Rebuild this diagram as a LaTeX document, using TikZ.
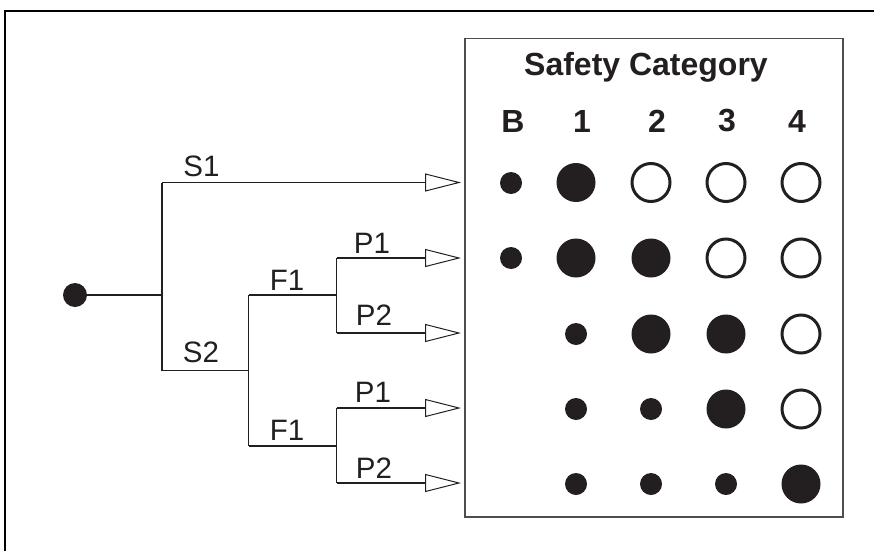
\documentclass[tikz,border=0pt]{standalone}
\usepackage{fontspec}
\setmainfont{Liberation Sans}
\usetikzlibrary{arrows.meta}
\definecolor{ink}{HTML}{231F20}
\tikzset{
  tree/.style={draw=ink, line width=1.3pt},
  branch/.style={tree, -{Triangle[open, length=36pt, width=18pt, line width=1pt]}},
  lbl/.style={inner sep=0pt, font=\fontsize{29.5}{29.5}\selectfont, text=ink},
  head/.style={inner sep=0pt, font=\fontsize{32}{32}\selectfont\bfseries, text=ink},
  small/.style={circle, fill=ink, minimum size=22pt, inner sep=0pt},
  big/.style={circle, fill=ink, minimum size=39pt, inner sep=0pt},
  open/.style={circle, draw=ink, line width=3pt, fill=white, minimum size=38pt, inner sep=0pt},
}
\begin{document}
\begin{tikzpicture}[x=1pt, y=-1pt]
\useasboundingbox (0,0) rectangle (874,551);
% outer frame (cropped)
\draw[black, line width=2pt] (5,551) -- (5,11) -- (874,11);
% category box
\node[draw=ink!80, line width=1.5pt, minimum width=378pt, minimum height=478pt, inner sep=0pt, anchor=north west] (box) at (464,38) {};
\node[head] (title) at (646,67.5) {Safety Category};
\node[head] (hB) at (513,121) {B};
\node[head] (h1) at (582,121) {1};
\node[head] (h2) at (657,121) {2};
\node[head] (h3) at (727,121) {3};
\node[head] (h4) at (797,121) {4};
% tree
\node[circle, fill=ink, minimum size=24pt, inner sep=0pt] (start) at (75,295) {};
\coordinate (s) at (162,295);
\coordinate (s1) at (162,182.5);
\coordinate (s2) at (162,370.5);
\coordinate (f) at (248.5,370.5);
\coordinate (fa) at (248.5,295);
\coordinate (fb) at (248.5,446);
\coordinate (pa) at (336.5,295);
\coordinate (pb) at (336.5,446);
\coordinate (pa1) at (336.5,258);
\coordinate (pa2) at (336.5,333);
\coordinate (pb1) at (336.5,408);
\coordinate (pb2) at (336.5,483);
\coordinate (t1) at (461,182.5);
\coordinate (t2) at (461,258);
\coordinate (t3) at (461,333);
\coordinate (t4) at (461,408);
\coordinate (t5) at (461,483);
\draw[tree] (start) -- (s);
\draw[tree] (s1) -- (s2);
\draw[branch] (s1) -- (t1);
\draw[tree] (s2) -- (f);
\draw[tree] (fa) -- (fb);
\draw[tree] (fa) -- (pa);
\draw[tree] (fb) -- (pb);
\draw[tree] (pa1) -- (pa2);
\draw[tree] (pb1) -- (pb2);
\draw[branch] (pa1) -- (t2);
\draw[branch] (pa2) -- (t3);
\draw[branch] (pb1) -- (t4);
\draw[branch] (pb2) -- (t5);
% labels
\node[lbl] (lS1) at (201.5,166) {S1};
\node[lbl] (lS2) at (201,352) {S2};
\node[lbl] (lF1a) at (287,280) {F1};
\node[lbl] (lF1b) at (287,430) {F1};
\node[lbl] (lP1a) at (372,243) {P1};
\node[lbl] (lP2a) at (374,315) {P2};
\node[lbl] (lP1b) at (373,392) {P1};
\node[lbl] (lP2b) at (374,468) {P2};
% dots row 1
\node[small] (r1B) at (511,183) {};
\node[big]   (r1c1) at (576,182.5) {};
\node[open]  (r1c2) at (651,182.5) {};
\node[open]  (r1c3) at (726,182.5) {};
\node[open]  (r1c4) at (801,182.5) {};
% row 2
\node[small] (r2B) at (511,258) {};
\node[big]   (r2c1) at (576,258) {};
\node[big]   (r2c2) at (651,258) {};
\node[open]  (r2c3) at (726,258) {};
\node[open]  (r2c4) at (801,258) {};
% row 3
\node[small] (r3c1) at (576,334) {};
\node[big]   (r3c2) at (651,334) {};
\node[big]   (r3c3) at (726,334) {};
\node[open]  (r3c4) at (801,334) {};
% row 4
\node[small] (r4c1) at (576,409) {};
\node[small] (r4c2) at (651,409) {};
\node[big]   (r4c3) at (726,409) {};
\node[open]  (r4c4) at (801,409) {};
% row 5
\node[small] (r5c1) at (576,484) {};
\node[small] (r5c2) at (651,484) {};
\node[small] (r5c3) at (726,484) {};
\node[big]   (r5c4) at (801,484) {};
\end{tikzpicture}
\end{document}
